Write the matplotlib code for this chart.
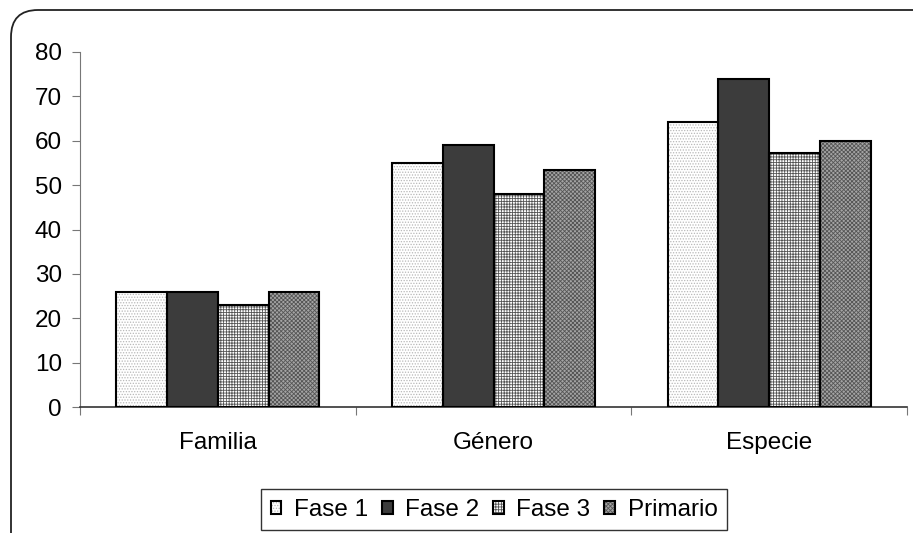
import numpy as np
import matplotlib.pyplot as plt
from matplotlib.patches import FancyBboxPatch

plt.rcParams["font.family"] = ["Liberation Sans", "DejaVu Sans"]
plt.rcParams["hatch.linewidth"] = 0.6

categories = ["Familia", "Género", "Especie"]
series = ["Fase 1", "Fase 2", "Fase 3", "Primario"]
fase1 = [26, 55, 64.3]
fase2 = [26, 59, 74]
fase3 = [23, 48, 57.3]
primario = [26, 53.3, 60]
y_ticks = [0, 10, 20, 30, 40, 50, 60, 70, 80]

# relleno, color del patrón, patrón
styles = [
    ("#ffffff", "#b8b8b8", "......"),
    ("#3c3c3c", "#2a2a2a", ""),
    ("#ffffff", "#555555", "++++++"),
    ("#a4a4a4", "#555555", "xxxxxxxx"),
]

fig = plt.figure(figsize=(9.13, 5.33), dpi=100)
ax = fig.add_axes([80 / 913, 126 / 533, 827 / 913, 355 / 533])

x = np.arange(len(categories)) + 0.5
width = 0.184
values = [fase1, fase2, fase3, primario]
handles = []
for i, (vals, (fc, hc, hatch)) in enumerate(zip(values, styles)):
    pos = x + (i - 1.5) * width
    b1 = ax.bar(pos, vals, width, color=fc, edgecolor=hc, hatch=hatch, linewidth=0, zorder=2)
    b2 = ax.bar(pos, vals, width, fill=False, edgecolor="black", linewidth=1.5, zorder=3)
    handles.append((b1[0], b2[0]))

ax.set_xlim(0, 3)
ax.set_ylim(0, 80)
ax.set_yticks(y_ticks)
ax.set_xticks([0, 1, 2, 3])
ax.set_xticklabels([])
ax.set_xticks(x, minor=True)
ax.set_xticklabels(categories, minor=True, fontsize=17.5)
ax.tick_params(axis="x", which="minor", length=0, pad=18)
ax.tick_params(axis="x", which="major", length=6, direction="out", color="#777777")
ax.tick_params(axis="y", length=6, direction="out", color="#777777", labelsize=17.5, pad=7)
ax.spines["top"].set_visible(False)
ax.spines["right"].set_visible(False)
ax.spines["left"].set_color("#777777")
ax.spines["bottom"].set_color("#333333")
ax.spines["bottom"].set_linewidth(1.2)

leg = fig.legend(handles, series, loc="upper center", bbox_to_anchor=(494 / 913, 44 / 533),
                 ncol=4, fontsize=17.5, frameon=True, fancybox=False, edgecolor="black",
                 handlelength=0.45, handleheight=0.45, handletextpad=0.5, columnspacing=0.58,
                 borderpad=0.4, borderaxespad=0)
leg.get_frame().set_linewidth(1.0)

border = FancyBboxPatch((0.11, -0.3), 9.3, 5.53,
                        boxstyle="round,pad=0,rounding_size=0.27",
                        transform=fig.dpi_scale_trans, fill=False,
                        edgecolor="#222222", linewidth=1.3)
fig.patches.append(border)

fig.savefig("out.png", dpi=100)
